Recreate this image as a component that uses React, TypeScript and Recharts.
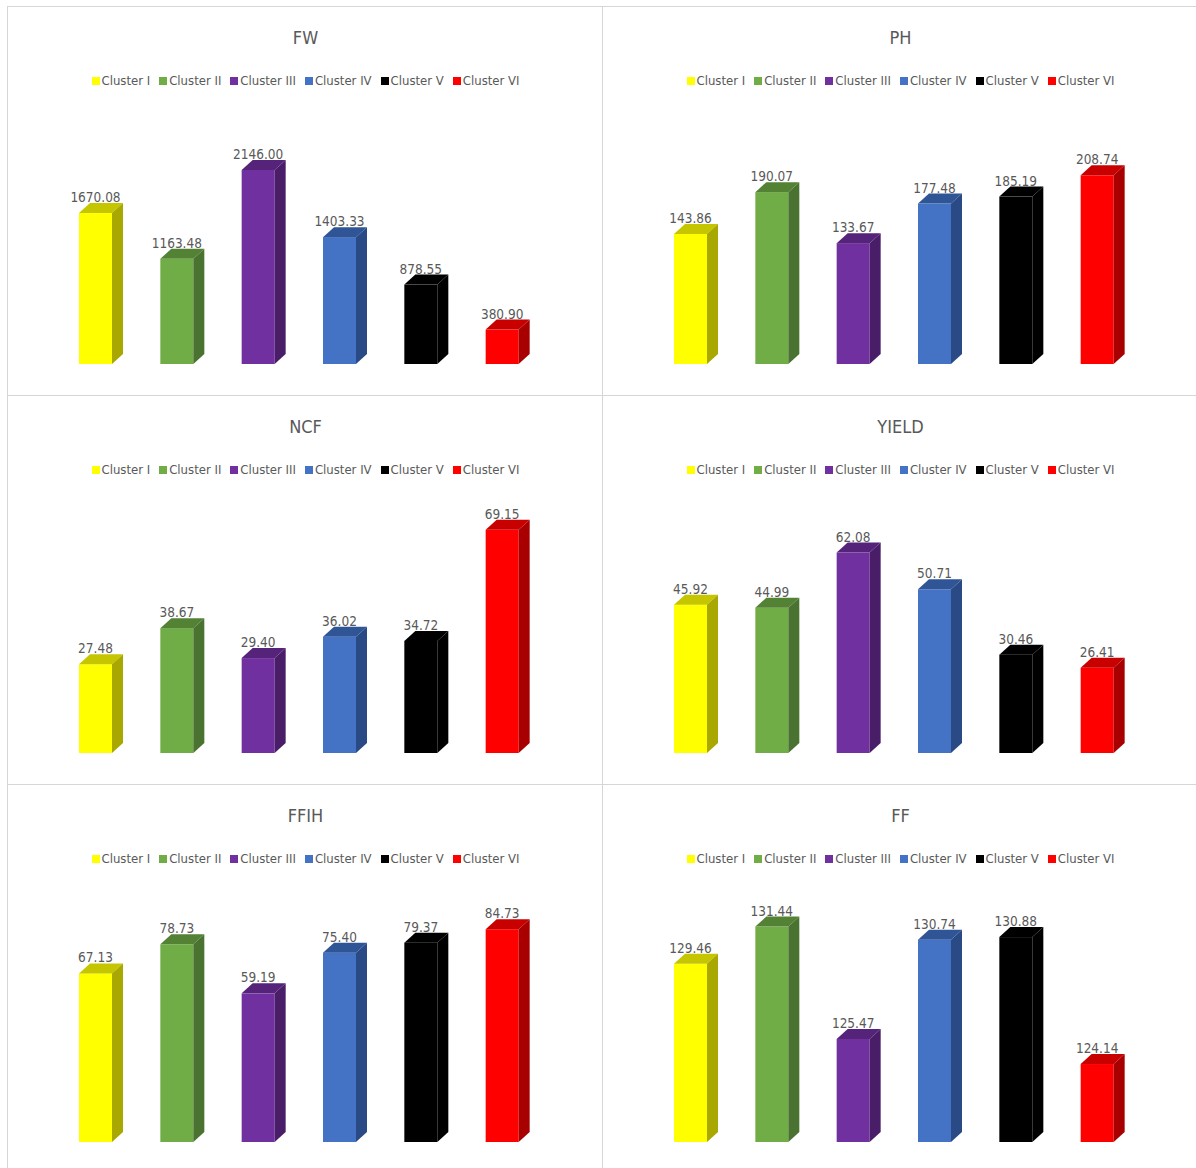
import { Bar, BarChart, Cell, LabelList, XAxis, YAxis } from "recharts";

const CLUSTERS = ["Cluster I", "Cluster II", "Cluster III", "Cluster IV", "Cluster V", "Cluster VI"];

const FW = [1670.08, 1163.48, 2146.0, 1403.33, 878.55, 380.9];
const PH = [143.86, 190.07, 133.67, 177.48, 185.19, 208.74];
const NCF = [27.48, 38.67, 29.4, 36.02, 34.72, 69.15];
const YIELD = [45.92, 44.99, 62.08, 50.71, 30.46, 26.41];
const FFIH = [67.13, 78.73, 59.19, 75.4, 79.37, 84.73];
const FF = [129.46, 131.44, 125.47, 130.74, 130.88, 124.14];

// front / top / side shades for each cluster
const COLORS = [
  { front: "#ffff00", top: "#c6c600", side: "#a8a800" },
  { front: "#70ad47", top: "#548235", side: "#4a7230" },
  { front: "#7030a0", top: "#55237a", side: "#4a1d68" },
  { front: "#4472c4", top: "#2f5597", side: "#2a4a85" },
  { front: "#000000", top: "#000000", side: "#000000" },
  { front: "#ff0000", top: "#c80000", side: "#a80000" },
];

const PANELS = [
  { title: "FW", values: FW, domain: [0, 2500] },
  { title: "PH", values: PH, domain: [0, 250] },
  { title: "NCF", values: NCF, domain: [0, 70] },
  { title: "YIELD", values: YIELD, domain: [0, 70] },
  { title: "FFIH", values: FFIH, domain: [0, 90] },
  { title: "FF", values: FF, domain: [120, 132] },
];

const FONT = "'DejaVu Sans', sans-serif";
const TEXT = "#595959";

const PANEL_W = 595;
const PANEL_H = 389;
const COL_X = [8, 603];
const ROW_Y = [7, 396, 785];

const DEPTH_X = 11;
const DEPTH_Y = 10;

function Bar3D(props: any) {
  const { x, y, width, height, index } = props;
  if (width == null || height == null) return null;
  const c = COLORS[index % COLORS.length];
  const base = y + height;
  const r = x + width;
  return (
    <g>
      <rect x={x} y={y} width={width} height={height} fill={c.front} />
      <polygon
        points={`${x},${y} ${x + DEPTH_X},${y - DEPTH_Y} ${r + DEPTH_X},${y - DEPTH_Y} ${r},${y}`}
        fill={c.top}
      />
      <polygon
        points={`${r},${y} ${r + DEPTH_X},${y - DEPTH_Y} ${r + DEPTH_X},${base - DEPTH_Y} ${r},${base}`}
        fill={c.side}
      />
    </g>
  );
}

function ValueLabel(props: any) {
  const { x, y, width, value } = props;
  return (
    <text
      x={x + width / 2}
      y={y - 11}
      textAnchor="middle"
      fill={TEXT}
      style={{ fontFamily: FONT, fontSize: 13.5, fontStretch: "condensed" }}
    >
      {Number(value).toFixed(2)}
    </text>
  );
}

function Legend6() {
  return (
    <div
      style={{
        position: "absolute",
        top: 66,
        left: 0,
        width: PANEL_W,
        display: "flex",
        justifyContent: "center",
        gap: 9,
        fontFamily: FONT,
        fontStretch: "condensed",
        fontSize: 13,
        color: TEXT,
        lineHeight: "16px",
      }}
    >
      {CLUSTERS.map((name, i) => (
        <div key={name} style={{ display: "flex", alignItems: "center" }}>
          <span
            style={{
              width: 8,
              height: 8,
              background: COLORS[i].front,
              marginRight: 2,
              display: "inline-block",
            }}
          />
          <span>{name}</span>
        </div>
      ))}
    </div>
  );
}

function Panel({ title, values, domain, left, top }: any) {
  const data = CLUSTERS.map((name, i) => ({ name, value: values[i] }));
  return (
    <div
      style={{
        position: "absolute",
        left,
        top,
        width: PANEL_W,
        height: PANEL_H,
        outline: "1.5px solid #d6d6d6",
        background: "#fff",
      }}
    >
      <div
        style={{
          position: "absolute",
          top: 19,
          left: 0,
          width: PANEL_W,
          textAlign: "center",
          fontFamily: FONT,
          fontStretch: "condensed",
          fontSize: 18,
          color: TEXT,
          lineHeight: "24px",
        }}
      >
        {title}
      </div>
      <Legend6 />
      <div style={{ position: "absolute", left: 0, top: 0 }}>
        <BarChart
          width={PANEL_W}
          height={PANEL_H}
          data={data}
          margin={{ top: 131, right: 60, bottom: 32, left: 47 }}
        >
          <XAxis dataKey="name" hide />
          <YAxis type="number" domain={domain} hide />
          <Bar dataKey="value" barSize={33} shape={Bar3D} isAnimationActive={false}>
            {data.map((d, i) => (
              <Cell key={d.name} fill={COLORS[i].front} />
            ))}
            <LabelList dataKey="value" content={ValueLabel} />
          </Bar>
        </BarChart>
      </div>
    </div>
  );
}

export default function App() {
  return (
    <div
      style={{
        position: "absolute",
        left: 0,
        top: 0,
        width: 1196,
        height: 1168,
        overflow: "hidden",
        background: "#fff",
      }}
    >
      {PANELS.map((p, i) => (
        <Panel
          key={p.title}
          title={p.title}
          values={p.values}
          domain={p.domain}
          left={COL_X[i % 2]}
          top={ROW_Y[Math.floor(i / 2)]}
        />
      ))}
    </div>
  );
}
